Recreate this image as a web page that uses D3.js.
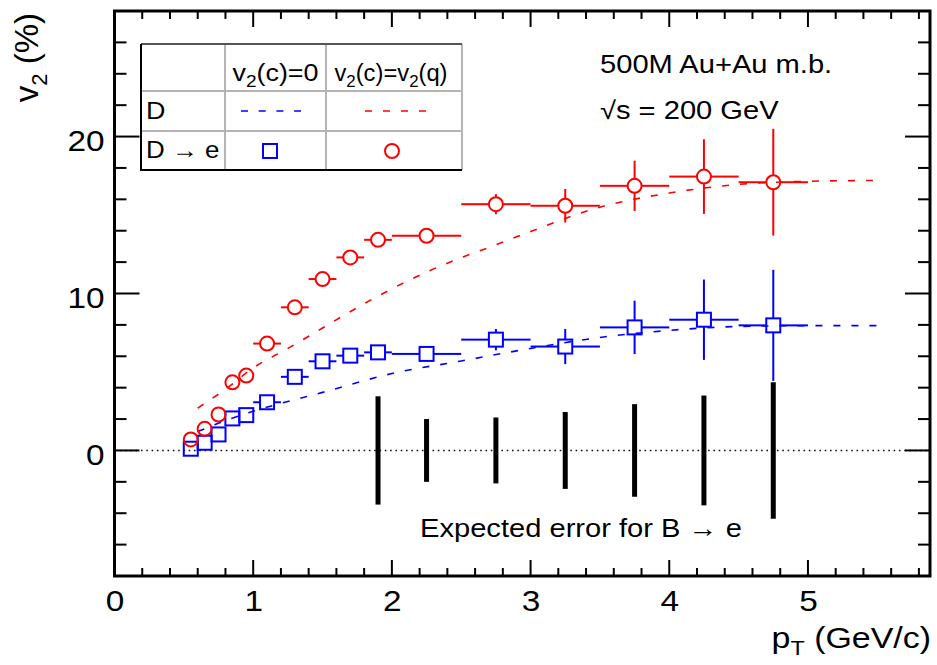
<!DOCTYPE html>
<html><head><meta charset="utf-8">
<script src="https://cdn.jsdelivr.net/npm/d3@7"></script>
<style>
body{margin:0;background:#fff}
text{font-family:"Liberation Sans",Arial,Helvetica,sans-serif;fill:#000}
</style>
</head><body>
<svg id="c" width="937" height="665"></svg>
<script>
// ---- data ----
const ptCenters = [0.55,0.65,0.75,0.85,0.95,1.1,1.3,1.5,1.7,1.9,2.25,2.75,3.25,3.75,4.25,4.75];
const ptHalfWidth = [0.05,0.05,0.05,0.05,0.05,0.1,0.1,0.1,0.1,0.1,0.25,0.25,0.25,0.25,0.25,0.25];
// D -> e, v2(c)=0 (blue squares)
const v2Zero    = [0.11,0.49,1.02,2.04,2.25,3.07,4.69,5.68,6.04,6.25,6.15,7.06,6.62,7.84,8.33,7.97];
const v2ZeroErr = [0.1,0.1,0.1,0.15,0.15,0.2,0.2,0.25,0.25,0.3,0.3,0.68,1.12,1.7,2.56,3.54];
// D -> e, v2(c)=v2(q) (red circles)
const v2Quark    = [0.70,1.38,2.29,4.34,4.77,6.81,9.12,10.92,12.30,13.42,13.68,15.69,15.59,16.86,17.45,17.09];
const v2QuarkErr = [0.1,0.1,0.15,0.15,0.2,0.2,0.2,0.25,0.25,0.3,0.3,0.64,1.07,1.6,2.38,3.4];
// D mesons (dashed curves)
const dPtZero = [0.6,0.8,1.0,1.2,1.5,2.0,2.5,3.0,3.5,4.0,4.5,5.0,5.5];
const dV2Zero = [1.2,1.9,2.5,3.0,3.7,4.9,5.7,6.5,7.2,7.65,7.9,7.95,7.95];
const dPtQuark = [0.6,0.8,1.0,1.25,1.5,1.75,2.0,2.25,2.5,2.75,3.0,3.5,4.0,4.5,5.0,5.5];
const dV2Quark = [2.7,3.9,5.26,6.5,7.8,9.1,10.3,11.37,12.28,13.1,13.95,15.5,16.4,16.95,17.15,17.2];
// expected error for B -> e
const bPt  = [1.9,2.25,2.75,3.25,3.75,4.25,4.75];
const bErr = [3.45,2.0,2.1,2.45,2.95,3.5,4.35];
// axis ticks
const xMajor = [0,1,2,3,4,5];
const yMajor = [0,10,20];

const BLUE = "#0000ff", RED = "#ff0000";
const svg = d3.select("#c");
const X0 = 114.5, X1 = 930, Y0 = 576, Y1 = 11;
const x = d3.scaleLinear().domain([0, 5.88]).range([X0, X1]);
const y = d3.scaleLinear().domain([-8, 28]).range([Y0, Y1]);

// horizontally widen a text element about its anchor point
function widen(sel, sx) {
  sel.each(function () {
    const t = d3.select(this);
    const ax = +t.attr("x") || 0, ay = +t.attr("y") || 0;
    t.attr("x", 0).attr("y", 0).attr("transform", `translate(${ax},${ay}) scale(${sx},1)`);
  });
  return sel;
}

// zero dotted line
svg.append("line").attr("x1", X0).attr("x2", X1).attr("y1", y(0)).attr("y2", y(0))
  .attr("stroke", "#111").attr("stroke-width", 1.6).attr("stroke-dasharray", "1.6,3.7");

// ticks on all four sides
const xMinor = d3.range(0, 5.881, 0.2);
const yMinor = d3.range(-8, 28.001, 2);
const ticks = svg.append("g").attr("stroke", "#000").attr("stroke-width", 2);
xMinor.forEach(v => {
  const maj = Math.abs(v - Math.round(v)) < 1e-6;
  const L = maj ? 16 : 8;
  ticks.append("line").attr("x1", x(v)).attr("x2", x(v)).attr("y1", Y0).attr("y2", Y0 - L);
  ticks.append("line").attr("x1", x(v)).attr("x2", x(v)).attr("y1", Y1).attr("y2", Y1 + L);
});
yMinor.forEach(v => {
  const maj = Math.abs(v % 10) < 1e-6;
  const L = maj ? 25 : 12;
  ticks.append("line").attr("x1", X0).attr("x2", X0 + L).attr("y1", y(v)).attr("y2", y(v));
  ticks.append("line").attr("x1", X1).attr("x2", X1 - L).attr("y1", y(v)).attr("y2", y(v));
});
svg.append("rect").attr("x", X0).attr("y", Y1).attr("width", X1 - X0).attr("height", Y0 - Y1)
  .attr("fill", "none").attr("stroke", "#000").attr("stroke-width", 3);

// tick labels through d3 axes (lines hidden)
const gx = svg.append("g").attr("transform", `translate(0,${Y0})`)
  .call(d3.axisBottom(x).tickValues(xMajor).tickFormat(d3.format("d")).tickSize(0).tickPadding(0));
gx.select(".domain").remove();
gx.selectAll("text").attr("dy", null).attr("y", 35).attr("font-size", 29).attr("font-family", null);
widen(gx.selectAll("text"), 1.15);
const gy = svg.append("g").attr("transform", `translate(${X0},0)`)
  .call(d3.axisLeft(y).tickValues(yMajor).tickFormat(d3.format("d")).tickSize(0).tickPadding(0));
gy.select(".domain").remove();
gy.selectAll("text").attr("dy", null).attr("x", -10).attr("y", 14).attr("font-size", 29).attr("font-family", null);
widen(gy.selectAll("text"), 1.15);

// axis titles
const xt = svg.append("text").attr("x", X1 + 1).attr("y", 648).attr("text-anchor", "end").attr("font-size", 29);
xt.append("tspan").text("p");
xt.append("tspan").attr("font-size", 20).attr("dy", 7).text("T");
xt.append("tspan").attr("dy", -7).text(" (GeV/c)");
widen(xt, 1.17);
const yt = svg.append("text").attr("transform", "translate(38,13) rotate(-90)").attr("text-anchor", "end").attr("font-size", 33);
yt.append("tspan").text("v");
yt.append("tspan").attr("font-size", 22).attr("dy", 9).text("2");
yt.append("tspan").attr("dy", -9).text(" (%)");

// dashed D curves
const line = d3.line().x(d => x(d[0])).y(d => y(d[1])).curve(d3.curveMonotoneX);
svg.append("path").datum(d3.zip(dPtZero, dV2Zero)).attr("d", line)
  .attr("fill", "none").attr("stroke", BLUE).attr("stroke-width", 1.6).attr("stroke-dasharray", "7,11");
svg.append("path").datum(d3.zip(dPtQuark, dV2Quark)).attr("d", line)
  .attr("fill", "none").attr("stroke", RED).attr("stroke-width", 1.6).attr("stroke-dasharray", "7,11");

// B -> e expected error bars
svg.append("g").selectAll("line").data(d3.zip(bPt, bErr)).join("line")
  .attr("x1", d => x(d[0])).attr("x2", d => x(d[0]))
  .attr("y1", d => y(d[1])).attr("y2", d => y(-d[1]))
  .attr("stroke", "#000").attr("stroke-width", 5);
widen(svg.append("text").attr("x", 420).attr("y", 537).attr("font-size", 26).text("Expected error for B \u2192 e"), 1.12);

// data points with error bars drawn outside the marker
function drawSeries(vals, errs, color, shape) {
  const g = svg.append("g").attr("stroke", color).attr("stroke-width", 2).attr("fill", "none");
  const r = 7;
  const pts = ptCenters.map((p, i) => ({p, h: ptHalfWidth[i], v: vals[i], e: errs[i]}));
  pts.forEach(d => {
    const cx = x(d.p), cy = y(d.v);
    const xl = x(d.p - d.h), xr = x(d.p + d.h), yt = y(d.v + d.e), yb = y(d.v - d.e);
    if (xl < cx - r) g.append("line").attr("x1", xl).attr("x2", cx - r).attr("y1", cy).attr("y2", cy);
    if (xr > cx + r) g.append("line").attr("x1", cx + r).attr("x2", xr).attr("y1", cy).attr("y2", cy);
    if (yt < cy - r) g.append("line").attr("x1", cx).attr("x2", cx).attr("y1", yt).attr("y2", cy - r);
    if (yb > cy + r) g.append("line").attr("x1", cx).attr("x2", cx).attr("y1", cy + r).attr("y2", yb);
  });
  if (shape === "square") {
    g.selectAll("rect").data(pts).join("rect")
      .attr("x", d => x(d.p) - r).attr("y", d => y(d.v) - r).attr("width", 2 * r).attr("height", 2 * r);
  } else {
    g.selectAll("circle").data(pts).join("circle")
      .attr("cx", d => x(d.p)).attr("cy", d => y(d.v)).attr("r", r);
  }
}
drawSeries(v2Zero, v2ZeroErr, BLUE, "square");
drawSeries(v2Quark, v2QuarkErr, RED, "circle");

// annotation
widen(svg.append("text").attr("x", 600).attr("y", 73).attr("font-size", 25).text("500M Au+Au m.b."), 1.165);
widen(svg.append("text").attr("x", 600).attr("y", 119).attr("font-size", 25).text("\u221As = 200 GeV"), 1.165);

// legend table
const L = {x0: 141, x1: 462, y0: 44, y1: 170, c1: 225, c2: 326, r1: 91, r2: 131};
const lg = svg.append("g");
lg.append("rect").attr("x", L.x0).attr("y", L.y0).attr("width", L.x1 - L.x0).attr("height", L.y1 - L.y0)
  .attr("fill", "#fff").attr("stroke", "none");
[[L.c1, L.y0, L.c1, L.y1], [L.c2, L.y0, L.c2, L.y1], [L.x0, L.r1, L.x1, L.r1], [L.x0, L.r2, L.x1, L.r2], [L.x1, L.y0, L.x1, L.y1]]
  .forEach(s => lg.append("line").attr("x1", s[0]).attr("y1", s[1]).attr("x2", s[2]).attr("y2", s[3])
    .attr("stroke", "#b4b4b4").attr("stroke-width", 2));
lg.append("line").attr("x1", L.x0).attr("y1", L.y0).attr("x2", L.x1).attr("y2", L.y0).attr("stroke", "#555").attr("stroke-width", 2);
lg.append("path").attr("d", `M${L.x0},${L.y0}V${L.y1}H${L.x1}`).attr("fill", "none").attr("stroke", "#000").attr("stroke-width", 2);

const h1 = lg.append("text").attr("x", 275.5).attr("y", 81).attr("text-anchor", "middle").attr("font-size", 24);
h1.append("tspan").text("v"); h1.append("tspan").attr("font-size", 17).attr("dy", 6).text("2");
h1.append("tspan").attr("dy", -6).text("(c)=0");
widen(h1, 1.12);
const h2 = lg.append("text").attr("x", 391).attr("y", 81).attr("text-anchor", "middle").attr("font-size", 24);
h2.append("tspan").text("v"); h2.append("tspan").attr("font-size", 17).attr("dy", 6).text("2");
h2.append("tspan").attr("dy", -6).text("(c)=v"); h2.append("tspan").attr("font-size", 17).attr("dy", 6).text("2");
h2.append("tspan").attr("dy", -6).text("(q)");
widen(h2, 0.99);
widen(lg.append("text").attr("x", 146).attr("y", 119).attr("font-size", 24).text("D"), 1.12);
widen(lg.append("text").attr("x", 146).attr("y", 158).attr("font-size", 24).text("D \u2192 e"), 1.08);
lg.append("line").attr("x1", 241).attr("x2", 301).attr("y1", 111).attr("y2", 111)
  .attr("stroke", BLUE).attr("stroke-width", 1.6).attr("stroke-dasharray", "7,10.7");
lg.append("line").attr("x1", 365).attr("x2", 426).attr("y1", 111).attr("y2", 111)
  .attr("stroke", RED).attr("stroke-width", 1.6).attr("stroke-dasharray", "7,11");
lg.append("rect").attr("x", 263).attr("y", 144).attr("width", 14).attr("height", 14)
  .attr("fill", "none").attr("stroke", BLUE).attr("stroke-width", 2);
lg.append("circle").attr("cx", 392).attr("cy", 151).attr("r", 7)
  .attr("fill", "none").attr("stroke", RED).attr("stroke-width", 2);
</script>
</body></html>
